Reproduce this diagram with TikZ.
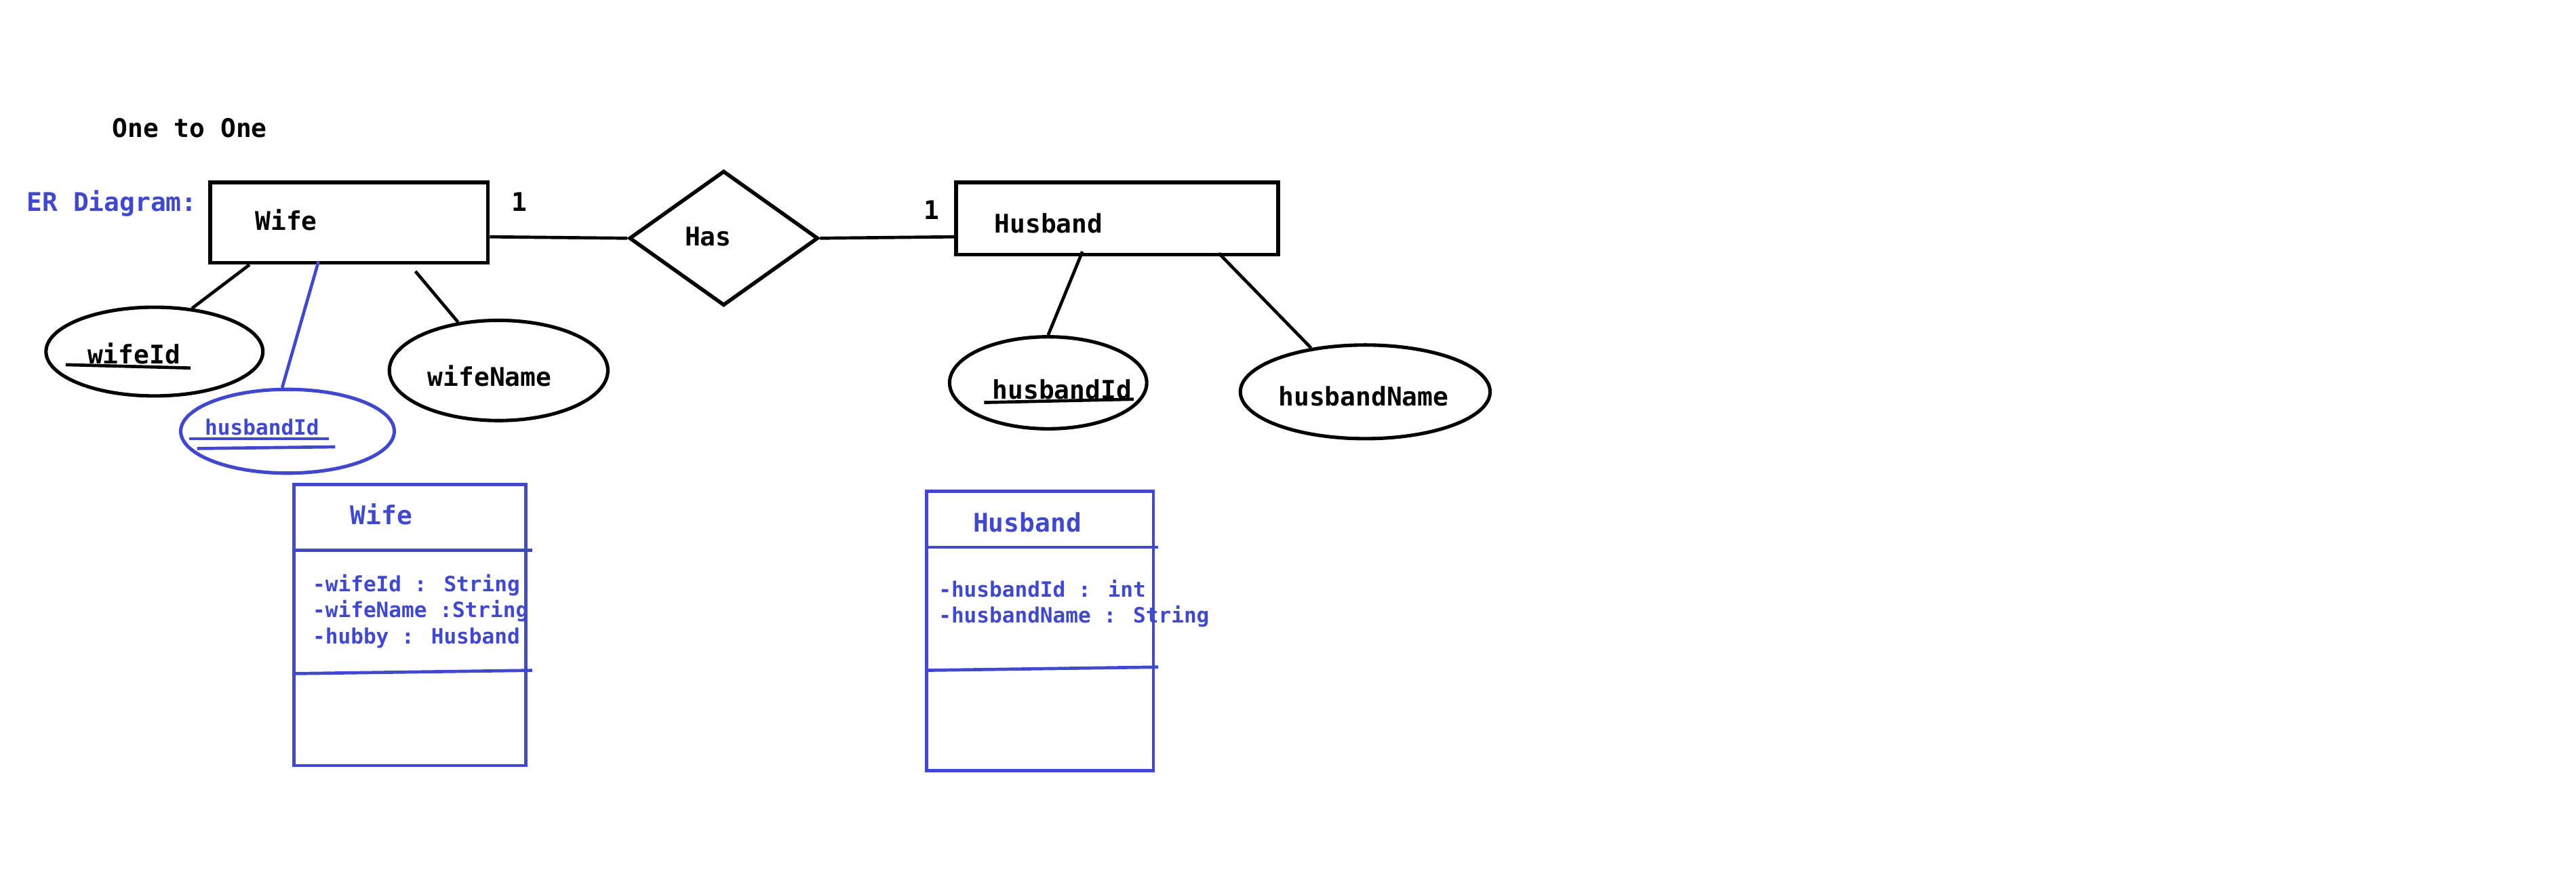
\documentclass[tikz,border=0pt]{standalone}
\usepackage{fontspec}
\setmainfont{DejaVu Sans Mono}
\usepackage{tikz}
\usetikzlibrary{shapes.geometric, calc}
\definecolor{umlblue}{RGB}{64,72,204}

\begin{document}
\begin{tikzpicture}[x=0.2mm, y=-0.2mm,
    er/.style={inner sep=0pt, font=\fontsize{8.9}{10}\selectfont\bfseries},
    small/.style={inner sep=0pt, text=umlblue, font=\fontsize{7.3}{9}\selectfont\bfseries},
    entity/.style={draw, line width=1.3pt, inner sep=0pt},
    attr/.style={draw, ellipse, line width=1.2pt, inner sep=0pt},
    conn/.style={line width=1.1pt},
    umlbox/.style={draw=umlblue, line width=1.1pt, inner sep=0pt}]
    \useasboundingbox (0,0) rectangle (1568,542.3);

    % Headings
    \node[er, anchor=west] (title) at (68,78) {One to One};
    \node[er, anchor=west, text=umlblue] (erlabel) at (16,124) {ER Diagram:};

    % Entities and the relationship
    \node[entity, minimum width=33.8mm, minimum height=9.8mm] (wife) at (212.5,135.5) {};
    \node[er, anchor=west] (wifetxt) at (155,134) {Wife};
    \node[entity, diamond, minimum width=23mm, minimum height=16.4mm] (has) at (440.5,145) {};
    \node[er] (hastxt) at (431,144) {Has};
    \node[entity, minimum width=39.2mm, minimum height=8.8mm] (husband) at (680,133) {};
    \node[er, anchor=west] (husbandtxt) at (605,136) {Husband};
    \node[er] (wifeone) at (316,123) {1};
    \node[er] (husbandone) at (567,128) {1};

    \draw[conn] ($(wife.south east)+(0,-17)$) -- (has.west);
    \draw[conn] (has.east) -- ($(husband.south west)+(0,-12)$);

    % Attributes
    \node[attr, minimum width=26.4mm, minimum height=10.8mm] (wifeId) at (94,214) {};
    \node[er] (wifeIdtxt) at (81.5,215) {wifeId};
    \draw[conn] (40,222) -- (116,224);
    \node[attr, draw=umlblue, minimum width=26mm, minimum height=10.2mm] (fkId) at (175,262.5) {};
    \node[small] (fkIdtxt) at (159.5,260) {husbandId};
    \draw[umlblue, conn] (115,267) -- (200,267);
    \draw[umlblue, conn] (120,273) -- (204,272);
    \node[attr, minimum width=26.6mm, minimum height=12.2mm] (wifeName) at (303.5,225.5) {};
    \node[er] (wifeNametxt) at (298,229) {wifeName};
    \node[attr, minimum width=24mm, minimum height=11.2mm] (husbandId) at (638,233) {};
    \node[er] (husbandIdtxt) at (646.5,237) {husbandId};
    \draw[conn] (599,245) -- (690,243);
    \node[attr, minimum width=30.4mm, minimum height=11.4mm] (husbandName) at (831,238.5) {};
    \node[er] (husbandNametxt) at (830,241) {husbandName};

    \draw[conn] ($(wife.south west)+(25,0)$) -- (wifeId.49);
    \draw[conn, umlblue] ($(wife.south west)+(67,-2)$) -- (fkId.97);
    \draw[conn] ($(wife.south west)+(126,4)$) -- (wifeName.130);
    \draw[conn] ($(husband.south west)+(78,-3)$) -- (husbandId.north);
    \draw[conn] ($(husband.south west)+(161,-2)$) -- (husbandName.141);

    % Class boxes
    \node[umlbox, minimum width=28.2mm, minimum height=34.2mm] (wifeClass) at (249.5,380.5) {};
    \draw[umlblue, conn] ($(wifeClass.north west)+(0,41)$) -- ($(wifeClass.north east)+(3,41)$);
    \draw[umlblue, conn] ($(wifeClass.north west)+(0,116)$) -- ($(wifeClass.north east)+(3,114)$);
    \node[er, text=umlblue, anchor=west] (wifeClasstxt) at (213,313) {Wife};
    \node[small, anchor=west, align=left] (wifeAttrs) at (190,372)
        {-wifeId : String\\-wifeName :String\\-hubby : Husband};

    \node[umlbox, minimum width=27.6mm, minimum height=34mm] (husbandClass) at (633,384) {};
    \draw[umlblue, conn] ($(husbandClass.north west)+(2,35)$) -- ($(husbandClass.north east)+(2,35)$);
    \draw[umlblue, conn] ($(husbandClass.north west)+(0,110)$) -- ($(husbandClass.north east)+(2,108)$);
    \node[er, text=umlblue, anchor=west] (husbandClasstxt) at (592,318) {Husband};
    \node[small, anchor=west, align=left] (husbandAttrs) at (571,367.5)
        {-husbandId : int\\-husbandName : String};
\end{tikzpicture}
\end{document}
